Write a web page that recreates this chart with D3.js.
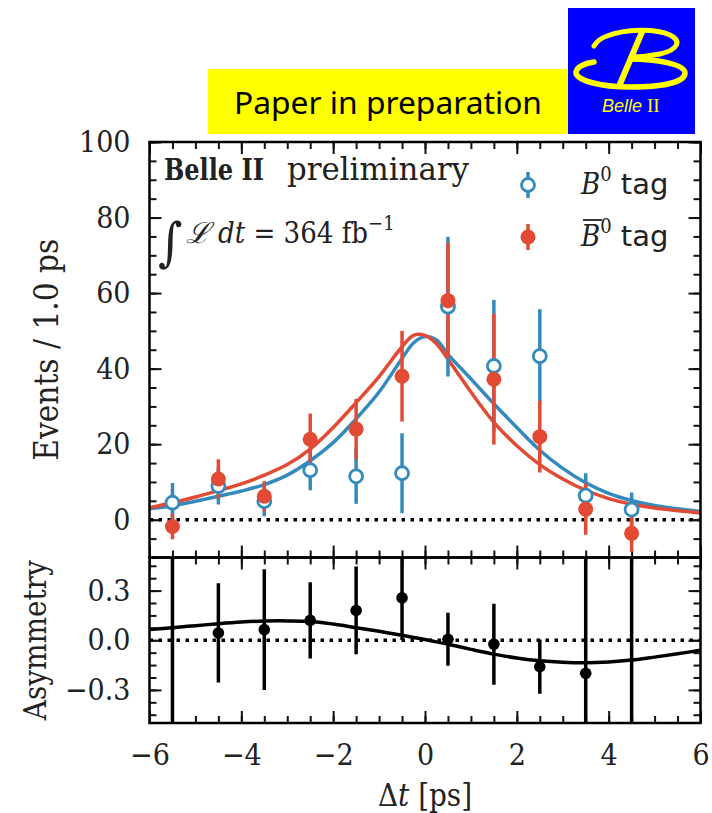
<!DOCTYPE html>
<html lang="en">
<head>
<meta charset="utf-8">
<title>Belle II: Delta t distribution</title>
<script src="https://cdn.jsdelivr.net/npm/d3@7"></script>
<style>
  body { margin: 0; background: #fff; }
  text { font-family: "DejaVu Serif Condensed", "DejaVu Serif", serif; font-stretch: condensed; fill: #222; }
  .tick text { font-size: 30px; fill: #222; }
  .tick line { stroke: #111; stroke-width: 2; }
  .domain { display: none; }
</style>
</head>
<body>
<script>
var w = 712, h = 813;

// bin centres [ps]
var binCenters = [-5.5, -4.5, -3.5, -2.5, -1.5, -0.5, 0.5, 1.5, 2.5, 3.5, 4.5];

// B0 tag (open blue) and B0bar tag (filled red), events / 1.0 ps
var b0Events    = [4.5, 8.9, 4.9, 13.1, 11.5, 12.3, 56.4, 40.7, 43.3, 6.4, 2.7];
var b0Err       = [5.2, 4.9, 4.0, 5.3, 7.3, 10.6, 18.5, 17.5, 12.4, 5.9, 4.5];
var b0barEvents = [-1.8, 10.8, 6.2, 21.3, 24.0, 38.0, 58.0, 37.2, 22.0, 2.8, -3.6];
var b0barErr    = [3.4, 5.2, 4.0, 6.8, 8.0, 12.0, 15.3, 17.3, 9.5, 6.8, 4.9];

// asymmetry per bin (first and last are off scale)
var asymValues = [1.2, 0.044, 0.064, 0.12, 0.18, 0.256, 0.006, -0.024, -0.16, -0.2, -1.2];
var asymErr    = [2.0, 0.30, 0.365, 0.23, 0.265, 0.255, 0.16, 0.245, 0.164, 1.0, 2.0];

// fit curves
var fitT     = [-6, -5.5, -5, -4.5, -4, -3.5, -3, -2.5, -2, -1.5, -1, -0.5, -0.25, 0, 0.25, 0.5, 1, 1.5, 2, 2.5, 3, 3.5, 4, 4.5, 5, 5.5, 6];
var b0Fit    = [2.9, 3.7, 4.9, 6.2, 7.6, 9.3, 11.8, 15.6, 20.4, 26.7, 33.8, 42.7, 46.8, 48.5, 47.6, 43.8, 37.3, 30.7, 24.4, 18.4, 13.6, 9.8, 7.0, 5.1, 3.8, 2.9, 2.2];
var b0barFit = [3.2, 4.5, 6.0, 7.7, 9.5, 11.8, 14.6, 18.7, 24.4, 31.0, 37.9, 45.8, 48.8, 48.8, 46.6, 42.5, 33.8, 25.8, 19.6, 14.6, 10.8, 7.8, 5.6, 4.1, 3.1, 2.4, 1.8];
var asymFit  = [0.065, 0.076, 0.088, 0.10, 0.11, 0.116, 0.117, 0.114, 0.098, 0.076, 0.054, 0.03, 0.017, 0.004, -0.01, -0.024, -0.055, -0.084, -0.107, -0.124, -0.133, -0.136, -0.131, -0.12, -0.102, -0.082, -0.06];

// tick values
var xMajor = [-6, -4, -2, 0, 2, 4, 6];
var yMajor = [0, 20, 40, 60, 80, 100];
var aMajor = [-0.3, 0.0, 0.3];

var blue = "#348ABD", red = "#E24A33";

var svg = d3.select("body").append("svg")
  .attr("width", w)
  .attr("height", h);

// ---- header boxes
svg.append("rect").attr("x", 208).attr("y", 69).attr("width", 360).attr("height", 65).attr("fill", "#ffff00");
svg.append("text").attr("x", 234).attr("y", 114)
  .attr("textLength", 308).attr("lengthAdjust", "spacingAndGlyphs")
  .style("font-family", "'Noto Sans', sans-serif").style("font-stretch", "normal")
  .style("font-size", "30px").style("fill", "#000")
  .text("Paper in preparation");

svg.append("rect").attr("x", 568).attr("y", 8).attr("width", 127).attr("height", 126).attr("fill", "#0000ff");
var logo = svg.append("g").attr("fill", "none").attr("stroke", "#ffff00").attr("stroke-linecap", "round");
logo.append("path").attr("stroke-width", 5)
  .attr("d", "M594,46 C597,41 601,38 607,36 C625,29 655,28 670,35 C682,41 678,50 660,54 C650,56 640,57 631,57");
logo.append("path").attr("stroke-width", 6).attr("d", "M642,32 L620,84");
logo.append("path").attr("stroke-width", 5.5)
  .attr("d", "M631,59 C655,59 685,64 685,73 C685,83 660,87 630,87 C600,87 575,80 576,72 C577,67 585,63 594,62");
var lt = svg.append("text").attr("x", 602).attr("y", 112)
  .style("font-family", "'Liberation Sans', sans-serif").style("font-style", "italic").style("font-stretch", "normal")
  .style("font-size", "18px").style("fill", "#ffff00");
lt.append("tspan").text("Belle ");
lt.append("tspan").style("font-family", "'Liberation Serif', serif").style("font-style", "normal")
  .style("font-size", "19px").text("II");

// ---- scales
var x = d3.scaleLinear().domain([-6, 6]).range([149.5, 700.5]);
var y = d3.scaleLinear().domain([-10, 100]).range([557.5, 142]);
var ya = d3.scaleLinear().domain([-0.5, 0.5]).range([723, 557.5]);

var defs = svg.append("defs");
defs.append("clipPath").attr("id", "clipMain").append("rect")
  .attr("x", x(-6)).attr("y", y(100)).attr("width", x(6) - x(-6)).attr("height", y(-10) - y(100));
defs.append("clipPath").attr("id", "clipAsym").append("rect")
  .attr("x", x(-6)).attr("y", ya(0.5)).attr("width", x(6) - x(-6)).attr("height", ya(-0.5) - ya(0.5));

function minorRange(a, b, s) {
  var out = [];
  for (var v = a; v <= b + 1e-9; v += s) out.push(Math.round(v * 1000) / 1000);
  return out;
}

function drawAxis(axis, tx, ty) {
  return svg.append("g").attr("transform", "translate(" + tx + "," + ty + ")").call(axis);
}

// main panel ticks
drawAxis(d3.axisLeft(y).tickValues(minorRange(-10, 100, 5)).tickSize(-7).tickFormat(""), x(-6), 0);
drawAxis(d3.axisLeft(y).tickValues(yMajor).tickSize(-12).tickPadding(19).tickFormat(d3.format("d")), x(-6), 0);
drawAxis(d3.axisRight(y).tickValues(minorRange(-10, 100, 5)).tickSize(-7).tickFormat(""), x(6), 0);
drawAxis(d3.axisRight(y).tickValues(yMajor).tickSize(-12).tickFormat(""), x(6), 0);
drawAxis(d3.axisTop(x).tickValues(minorRange(-6, 6, 0.5)).tickSize(-7).tickFormat(""), 0, y(100));
drawAxis(d3.axisTop(x).tickValues(xMajor).tickSize(-12).tickFormat(""), 0, y(100));
drawAxis(d3.axisBottom(x).tickValues(minorRange(-6, 6, 0.5)).tickSize(-7).tickFormat(""), 0, y(-10));
drawAxis(d3.axisBottom(x).tickValues(xMajor).tickSize(-12).tickFormat(""), 0, y(-10));

// asymmetry panel ticks
drawAxis(d3.axisLeft(ya).tickValues(minorRange(-0.45, 0.45, 0.075)).tickSize(-7).tickFormat(""), x(-6), 0);
drawAxis(d3.axisLeft(ya).tickValues(aMajor).tickSize(-12).tickPadding(19).tickFormat(d3.format(".1f")), x(-6), 0);
drawAxis(d3.axisRight(ya).tickValues(minorRange(-0.45, 0.45, 0.075)).tickSize(-7).tickFormat(""), x(6), 0);
drawAxis(d3.axisRight(ya).tickValues(aMajor).tickSize(-12).tickFormat(""), x(6), 0);
drawAxis(d3.axisTop(x).tickValues(minorRange(-6, 6, 0.5)).tickSize(-7).tickFormat(""), 0, ya(0.5));
drawAxis(d3.axisTop(x).tickValues(xMajor).tickSize(-12).tickFormat(""), 0, ya(0.5));
drawAxis(d3.axisBottom(x).tickValues(minorRange(-6, 6, 0.5)).tickSize(-7).tickFormat(""), 0, ya(-0.5));
drawAxis(d3.axisBottom(x).tickValues(xMajor).tickSize(-12).tickPadding(21).tickFormat(d3.format("d")), 0, ya(-0.5));

// ---- main panel content
var main = svg.append("g").attr("clip-path", "url(#clipMain)");

main.append("line")
  .attr("x1", x(-6)).attr("x2", x(6)).attr("y1", y(0)).attr("y2", y(0))
  .attr("stroke", "#000").attr("stroke-width", 3.5).attr("stroke-dasharray", "3.5,5.5");

var fitLine = d3.line().curve(d3.curveCatmullRom)
  .x(function(d, i) { return x(fitT[i]); })
  .y(function(d) { return y(d); });

main.append("path").datum(b0Fit).attr("d", fitLine)
  .attr("fill", "none").attr("stroke", blue).attr("stroke-width", 3.5);
main.append("path").datum(b0barFit).attr("d", fitLine)
  .attr("fill", "none").attr("stroke", red).attr("stroke-width", 3.5);

function errBars(vals, errs, color) {
  main.append("g").selectAll("line")
    .data(vals).enter().append("line")
    .attr("x1", function(d, i) { return x(binCenters[i]); })
    .attr("x2", function(d, i) { return x(binCenters[i]); })
    .attr("y1", function(d, i) { return y(d - errs[i]); })
    .attr("y2", function(d, i) { return y(d + errs[i]); })
    .attr("stroke", color).attr("stroke-width", 3.5);
}
errBars(b0Events, b0Err, blue);
errBars(b0barEvents, b0barErr, red);

main.append("g").selectAll("circle")
  .data(b0Events).enter().append("circle")
  .attr("cx", function(d, i) { return x(binCenters[i]); })
  .attr("cy", function(d) { return y(d); })
  .attr("r", 6.5)
  .attr("fill", "#fff").attr("stroke", blue).attr("stroke-width", 2.8);

main.append("g").selectAll("circle")
  .data(b0barEvents).enter().append("circle")
  .attr("cx", function(d, i) { return x(binCenters[i]); })
  .attr("cy", function(d) { return y(d); })
  .attr("r", 7.5)
  .attr("fill", red);

// ---- asymmetry panel content
var asym = svg.append("g").attr("clip-path", "url(#clipAsym)");

asym.append("line")
  .attr("x1", x(-6)).attr("x2", x(6)).attr("y1", ya(0)).attr("y2", ya(0))
  .attr("stroke", "#000").attr("stroke-width", 3.5).attr("stroke-dasharray", "3.5,5.5");

var asymLine = d3.line().curve(d3.curveCatmullRom)
  .x(function(d, i) { return x(fitT[i]); })
  .y(function(d) { return ya(d); });

asym.append("path").datum(asymFit).attr("d", asymLine)
  .attr("fill", "none").attr("stroke", "#000").attr("stroke-width", 3.5);

asym.append("g").selectAll("line")
  .data(asymValues).enter().append("line")
  .attr("x1", function(d, i) { return x(binCenters[i]); })
  .attr("x2", function(d, i) { return x(binCenters[i]); })
  .attr("y1", function(d, i) { return ya(d - asymErr[i]); })
  .attr("y2", function(d, i) { return ya(d + asymErr[i]); })
  .attr("stroke", "#000").attr("stroke-width", 3.5);

asym.append("g").selectAll("circle")
  .data(asymValues).enter().append("circle")
  .attr("cx", function(d, i) { return x(binCenters[i]); })
  .attr("cy", function(d) { return ya(d); })
  .attr("r", 5.8)
  .attr("fill", "#000");

// ---- frames
svg.append("rect").attr("x", x(-6)).attr("y", y(100)).attr("width", x(6) - x(-6)).attr("height", y(-10) - y(100))
  .attr("fill", "none").attr("stroke", "#000").attr("stroke-width", 2.5);
svg.append("rect").attr("x", x(-6)).attr("y", ya(0.5)).attr("width", x(6) - x(-6)).attr("height", ya(-0.5) - ya(0.5))
  .attr("fill", "none").attr("stroke", "#000").attr("stroke-width", 2.5);

// ---- axis labels
svg.append("text")
  .attr("transform", "translate(58," + ((y(100) + y(-10)) / 2) + ") rotate(-90)")
  .attr("text-anchor", "middle").style("font-size", "33px")
  .text("Events / 1.0 ps");
svg.append("text")
  .attr("transform", "translate(46," + ((ya(0.5) + ya(-0.5)) / 2) + ") rotate(-90)")
  .attr("text-anchor", "middle").style("font-size", "31px")
  .text("Asymmetry");
var xl = svg.append("text").attr("x", x(0)).attr("y", 806).attr("text-anchor", "middle").style("font-size", "31px");
xl.append("tspan").text("Δ");
xl.append("tspan").style("font-style", "italic").text("t");
xl.append("tspan").text(" [ps]");

// ---- annotations
svg.append("text").attr("x", 164).attr("y", 180)
  .attr("textLength", 100).attr("lengthAdjust", "spacingAndGlyphs")
  .style("font-weight", "bold").style("font-size", "29px").text("Belle II");
svg.append("text").attr("x", 287).attr("y", 180)
  .attr("textLength", 182).attr("lengthAdjust", "spacingAndGlyphs")
  .style("font-size", "31px").text("preliminary");

svg.append("text").attr("x", 158).attr("y", 260).style("font-size", "52px").text("∫");
var t2 = svg.append("text").attr("x", 186).attr("y", 243).style("font-size", "29px");
t2.append("tspan").style("font-style", "italic").text("ℒ");
t2.append("tspan").attr("dx", 8).style("font-style", "italic").text("dt");
t2.append("tspan").text(" = 364 fb");
t2.append("tspan").attr("dy", -13).style("font-size", "20px").text("−1");

// ---- legend
var legend = [
  { label: "B", color: blue, open: true, yy: 185 },
  { label: "B", color: red, open: false, yy: 237 }
];
legend.forEach(function(d) {
  svg.append("line").attr("x1", 528).attr("x2", 528).attr("y1", d.yy - 13).attr("y2", d.yy + 13)
    .attr("stroke", d.color).attr("stroke-width", 3.5);
  svg.append("circle").attr("cx", 528).attr("cy", d.yy).attr("r", d.open ? 6.5 : 7.5)
    .attr("fill", d.open ? "#fff" : d.color)
    .attr("stroke", d.open ? d.color : "none").attr("stroke-width", 2.8);
  var t = svg.append("text").attr("x", 581).attr("y", d.yy + 9).style("font-size", "29px");
  t.append("tspan").style("font-style", "italic").text(d.label);
  t.append("tspan").attr("dy", -13).style("font-size", "20px").text("0");
  t.append("tspan").attr("dy", 13).style("font-family", "'DejaVu Sans', sans-serif").style("font-stretch", "normal")
    .style("font-size", "29px").text(" tag");
  if (!d.open) {
    svg.append("line").attr("x1", 583).attr("x2", 602).attr("y1", d.yy - 17).attr("y2", d.yy - 17)
      .attr("stroke", "#222").attr("stroke-width", 1.8);
  }
});
</script>
</body>
</html>
